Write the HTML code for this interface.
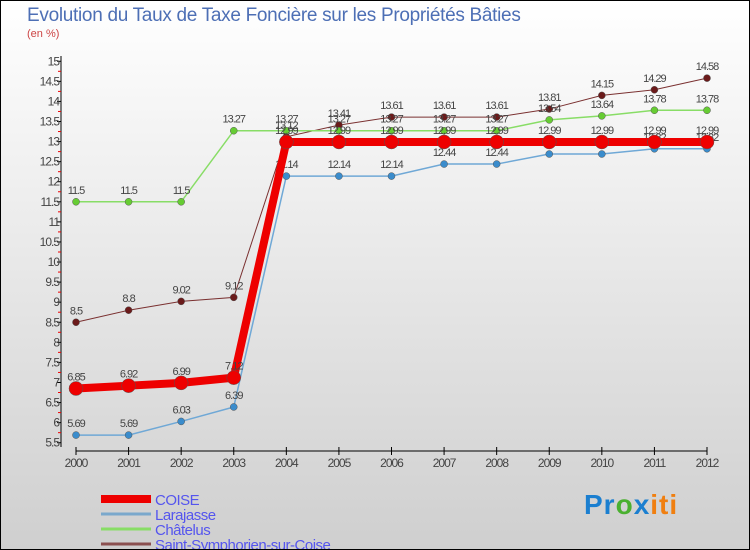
<!DOCTYPE html>
<html><head><meta charset="utf-8"><style>
body{margin:0}
#c{position:relative;width:750px;height:550px;box-sizing:border-box;border:1px solid #000;background:linear-gradient(#fff,#cfcfcf);font-family:"Liberation Sans",sans-serif;overflow:hidden}
</style></head><body>
<div id="c">
<div style="position:absolute;left:26px;top:4px;font-size:19px;color:#4d6fb5;letter-spacing:-0.3px">Evolution du Taux de Taxe Foncière sur les Propriétés Bâties</div>
<div style="position:absolute;left:26px;top:27px;font-size:11px;color:#c44">(en %)</div>
<svg id="s" width="750" height="550" style="position:absolute;left:0;top:0"></svg>
<div style="position:absolute;left:583px;top:488px;font-size:28px;font-weight:bold;letter-spacing:1px"><span style="color:#1b7fd0">Pr</span><span style="color:#4ab030">o</span><span style="color:#1b7fd0">x</span><span style="color:#f07f10">iti</span></div>
</div>
<script>
const years=[2000,2001,2002,2003,2004,2005,2006,2007,2008,2009,2010,2011,2012];
const yTicks=[5.5,6,6.5,7,7.5,8,8.5,9,9.5,10,10.5,11,11.5,12,12.5,13,13.5,14,14.5,15];
const coise=[6.85,6.92,6.99,7.12,12.99,12.99,12.99,12.99,12.99,12.99,12.99,12.99,12.99];
const larajasse=[5.69,5.69,6.03,6.39,12.14,12.14,12.14,12.44,12.44,12.69,12.69,12.82,12.82];
const chatelus=[11.5,11.5,11.5,13.27,13.27,13.27,13.27,13.27,13.27,13.54,13.64,13.78,13.78];
const stsym=[8.5,8.8,9.02,9.12,13.12,13.41,13.61,13.61,13.61,13.81,14.15,14.29,14.58];
const names=["COISE","Larajasse","Châtelus","Saint-Symphorien-sur-Coise"];
const S=document.getElementById('s'),NS="http://www.w3.org/2000/svg";
const X=i=>75+i*(706-75)/12, Y=v=>441.7-(v-5.5)*40.15;
function el(t,a,txt){const e=document.createElementNS(NS,t);for(const k in a)e.setAttribute(k,a[k]);if(txt!==undefined)e.textContent=txt;S.appendChild(e);return e;}
let e=el('line',{x1:60,y1:55,x2:60,y2:446,stroke:'#000'});

e=el('line',{x1:75,y1:450,x2:706,y2:450,stroke:'#000'});

yTicks.forEach((v,i)=>{
 el('line',{x1:56,x2:60,y1:Y(v),y2:Y(v),stroke:'#000'});
 if(i<yTicks.length-1)el('line',{x1:57,x2:60,y1:Y(v+0.25),y2:Y(v+0.25),stroke:'#e00'});
 const t=el('text',{x:58,y:Y(v)+4,'text-anchor':'end','font-size':12,fill:'#444','letter-spacing':'-1'},String(v));
 
});
years.forEach((y,i)=>{
 el('line',{x1:X(i),x2:X(i),y1:446,y2:454,stroke:'#000'});
 const t=el('text',{x:X(i),y:466,'text-anchor':'middle','font-size':12,fill:'#444','letter-spacing':'-1'},String(y));
 
});
function series(d,col,dot,w,r,nm){
 const p=el('polyline',{points:d.map((v,i)=>X(i)+','+Y(v)).join(' '),fill:'none',stroke:col,'stroke-width':w});
 
 d.forEach((v,i)=>{
  const c=el('circle',{cx:X(i),cy:Y(v),r:r,fill:dot,stroke:'#555','stroke-width':0.5});
  
  const t=el('text',{x:X(i),y:Y(v)-8,'text-anchor':'middle','font-size':11,fill:'#444','letter-spacing':'-1'},String(v));
  
 });
}
series(stsym,'#7a3030','#6b1a1a',1,3.5,'saint-symphorien');
series(chatelus,'#88dd66','#66cc33',1.5,3.5,'chatelus');
series(larajasse,'#6fa8d6','#3a8ccc',1.5,3.5,'larajasse');
series(coise,'#ee0000','#ee0000',8,7,'coise');
const lc=['#ee0000','#7aa8cc','#88dd66','#8b5050'],lw=[8,3,3,3];
names.forEach((n,i)=>{
 const y=498+i*15;
 const l=el('line',{x1:100,x2:150,y1:y,y2:y,stroke:lc[i],'stroke-width':lw[i]});
 
 const t=el('text',{x:154,y:y+6,'font-size':15,fill:'#5555ee','letter-spacing':'-0.5'},n);
 
});
</script>
</body></html>
